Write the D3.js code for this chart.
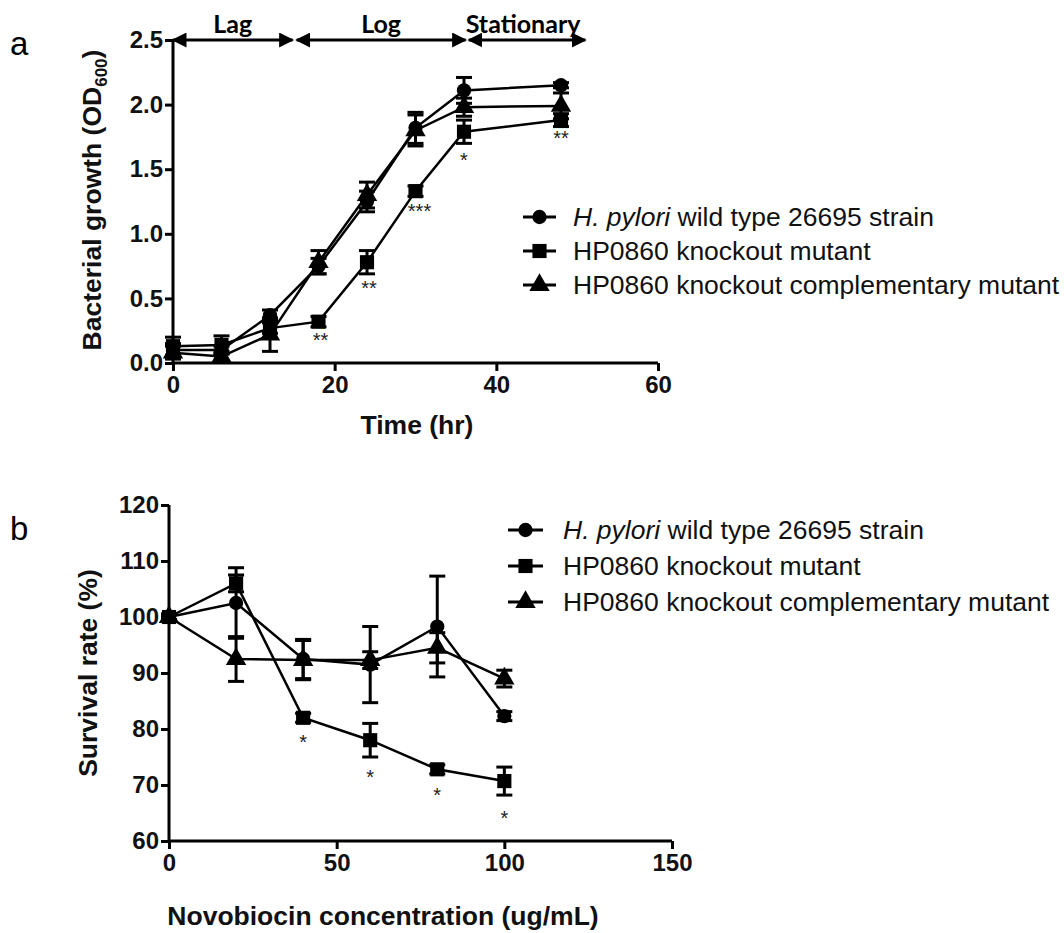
<!DOCTYPE html>
<html>
<head>
<meta charset="utf-8">
<script src="https://cdn.jsdelivr.net/npm/d3@7"></script>
<style>
  html, body { margin: 0; padding: 0; background: #fff; }
  svg { display: block; }
  .tick text { font-family: "Liberation Sans", Arial, sans-serif; font-weight: bold; }
</style>
</head>
<body>
<svg id="chart" width="1064" height="933"></svg>
<script>
// ---------- Panel a data ----------
const timeA = [0, 6, 12, 18, 24, 30, 36, 48];
const wtA   = [0.10, 0.10, 0.37, 0.75, 1.25, 1.82, 2.11, 2.15];
const koA   = [0.13, 0.14, 0.27, 0.32, 0.78, 1.33, 1.79, 1.88];
const compA = [0.08, 0.05, 0.22, 0.78, 1.30, 1.80, 1.98, 1.99];
const wtErrA   = [0.05, 0.03, 0.04, 0.06, 0.08, 0.12, 0.10, 0.02];
const koErrA   = [0.07, 0.07, 0.04, 0.04, 0.09, 0.04, 0.09, 0.05];
const compErrA = [0.05, 0.04, 0.13, 0.09, 0.10, 0.12, 0.07, 0.10];
const starTimeA  = [18, 24, 30, 36, 48];
const starValueA = [0.18, 0.58, 1.18, 1.57, 1.74];
const starTextA  = ["**", "**", "***", "*", "**"];
const xTicksA = [0, 20, 40, 60];
const yTicksA = [0.0, 0.5, 1.0, 1.5, 2.0, 2.5];
const phaseNames = ["Lag", "Log", "Stationary"];
const phaseStart = [0, 15.3, 36.6];
const phaseEnd   = [14.8, 36.2, 51];

// ---------- Panel b data ----------
const concB = [0, 20, 40, 60, 80, 100];
const wtB   = [100, 102.5, 92.5, 91.5, 98.3, 82.3];
const koB   = [100, 106, 82, 78, 72.8, 70.7];
const compB = [100, 92.5, 92.3, 92.3, 94.5, 89];
const wtErrB   = [0.5, 6.3, 3.5, 6.8, 9, 0.8];
const koErrB   = [0.5, 1.5, 0.8, 3, 0.8, 2.5];
const compErrB = [0.5, 4, 3.5, 1.5, 2.7, 1.5];
const starConcB  = [40, 60, 80, 100];
const starValueB = [77.7, 71.4, 68.2, 64.1];
const starTextB  = ["*", "*", "*", "*"];
const xTicksB = [0, 50, 100, 150];
const yTicksB = [60, 70, 80, 90, 100, 110, 120];

const seriesNames = ["wild type 26695 strain", "HP0860 knockout mutant", "HP0860 knockout complementary mutant"];

const svg = d3.select("#chart");
const FONT = '"Liberation Sans", Arial, sans-serif';

function drawPanel(cfg) {
  const g = svg.append("g");
  const x = d3.scaleLinear().domain(cfg.xDomain).range(cfg.xRange);
  const y = d3.scaleLinear().domain(cfg.yDomain).range(cfg.yRange);

  // axes
  const xAxis = d3.axisBottom(x).tickValues(cfg.xTicks).tickSize(8).tickPadding(5).tickFormat(d3.format("d"));
  const yAxis = d3.axisLeft(y).tickValues(cfg.yTicks).tickSize(8).tickPadding(2).tickFormat(cfg.yFormat);
  const gx = g.append("g").attr("transform", `translate(0,${cfg.yRange[0]})`).call(xAxis);
  const gy = g.append("g").attr("transform", `translate(${cfg.xRange[0]},0)`).call(yAxis);
  [gx, gy].forEach(a => {
    a.select(".domain").attr("stroke", "#000").attr("stroke-width", 3);
    a.selectAll(".tick line").attr("stroke", "#000").attr("stroke-width", 3);
    a.selectAll(".tick text").attr("fill", "#111").style("font-size", cfg.tickSize + "px");
  });
  gx.select(".domain").attr("d", `M${cfg.xRange[0]},0H${cfg.xRange[1]}`);
  gy.select(".domain").attr("d", `M0,${cfg.yRange[0]}V${cfg.yRange[1]}`);

  const sym = {
    circle: d3.symbol().type(d3.symbolCircle).size(160),
    square: d3.symbol().type(d3.symbolSquare).size(200),
    triangle: d3.symbol().type(d3.symbolTriangle).size(180)
  };

  const series = [
    { v: cfg.wt, e: cfg.wtErr, shape: "circle" },
    { v: cfg.ko, e: cfg.koErr, shape: "square" },
    { v: cfg.comp, e: cfg.compErr, shape: "triangle" }
  ];
  const line = d3.line().x(d => x(d[0])).y(d => y(d[1]));
  series.forEach(s => {
    const pts = cfg.xs.map((t, i) => [t, s.v[i], s.e[i]]);
    // error bars
    const eb = g.append("g");
    pts.forEach(p => {
      const x0 = x(p[0]);
      const y1 = y(p[1] + p[2]), y2 = y(p[1] - p[2]);
      eb.append("line").attr("x1", x0).attr("x2", x0).attr("y1", y1).attr("y2", y2).attr("stroke", "#000").attr("stroke-width", 3);
      [y1, y2].forEach(yy => eb.append("line").attr("x1", x0 - 8).attr("x2", x0 + 8).attr("y1", yy).attr("y2", yy).attr("stroke", "#000").attr("stroke-width", 3));
    });
    g.append("path").datum(pts).attr("d", line).attr("fill", "none").attr("stroke", "#000").attr("stroke-width", 2.5);
    g.selectAll(null).data(pts).enter().append("path")
      .attr("d", sym[s.shape])
      .attr("transform", d => `translate(${x(d[0])},${y(d[1])})`)
      .attr("fill", "#000");
  });

  // significance stars
  cfg.starX.forEach((t, i) => {
    g.append("text").attr("x", x(t) + (cfg.starDx[i] || 0)).attr("y", y(cfg.starY[i]))
      .attr("text-anchor", "middle").attr("dominant-baseline", "central")
      .attr("font-family", FONT).attr("font-size", 20).attr("fill", "#222")
      .text(cfg.starText[i]);
  });

  // axis titles
  g.append("text").attr("transform", `translate(${cfg.yTitlePos[0]},${cfg.yTitlePos[1]}) rotate(-90)`)
    .attr("text-anchor", "middle").attr("font-family", FONT).attr("font-weight", "bold")
    .attr("font-size", cfg.titleSize).attr("fill", "#111").call(cfg.yTitle);
  g.append("text").attr("x", cfg.xTitlePos[0]).attr("y", cfg.xTitlePos[1])
    .attr("text-anchor", "middle").attr("font-family", FONT).attr("font-weight", "bold")
    .attr("font-size", cfg.titleSize).attr("fill", "#111").text(cfg.xTitle);

  // legend
  const lg = g.append("g");
  series.forEach((s, i) => {
    const yy = cfg.legendY[i];
    lg.append("line").attr("x1", cfg.legendX[0]).attr("x2", cfg.legendX[1]).attr("y1", yy).attr("y2", yy)
      .attr("stroke", "#000").attr("stroke-width", 3);
    lg.append("path").attr("d", sym[s.shape]).attr("transform", `translate(${(cfg.legendX[0] + cfg.legendX[1]) / 2},${yy})`);
    const t = lg.append("text").attr("x", cfg.legendX[2]).attr("y", yy).attr("dominant-baseline", "central")
      .attr("font-family", FONT).attr("font-size", cfg.legendSize).attr("fill", "#111");
    if (i === 0) {
      t.append("tspan").attr("font-style", "italic").text("H. pylori");
      t.append("tspan").text(" " + seriesNames[0]);
    } else {
      t.text(seriesNames[i]);
    }
  });

  // panel letter
  g.append("text").attr("x", cfg.letterPos[0]).attr("y", cfg.letterPos[1]).attr("font-family", FONT)
    .attr("font-size", 33).text(cfg.letter);
  return { g, x, y };
}

const A = drawPanel({
  xDomain: [0, 60], xRange: [173, 658], yDomain: [0, 2.5], yRange: [363, 40],
  xTicks: xTicksA, yTicks: yTicksA, yFormat: d3.format(".1f"), tickSize: 24,
  xs: timeA, wt: wtA, ko: koA, comp: compA, wtErr: wtErrA, koErr: koErrA, compErr: compErrA,
  starX: starTimeA, starY: starValueA, starText: starTextA, starDx: [2, 2, 4, 0, 0],
  yTitlePos: [101, 200], titleSize: 26.5,
  yTitle: t => { t.append("tspan").text("Bacterial growth (OD");
                 t.append("tspan").attr("font-size", 17).attr("dy", 6).text("600");
                 t.append("tspan").attr("dy", -6).text(")"); },
  xTitlePos: [417, 434], xTitle: "Time (hr)",
  legendX: [523, 556, 573], legendY: [217, 251, 285], legendSize: 26.5,
  letter: "a", letterPos: [10, 55]
});

// phase arrows
const phase = A.g.append("g");
const defs = svg.append("defs");
defs.append("marker").attr("id", "ah").attr("viewBox", "0 0 10 10").attr("refX", 9).attr("refY", 5)
  .attr("markerWidth", 5).attr("markerHeight", 5).attr("orient", "auto-start-reverse").attr("markerUnits", "strokeWidth")
  .append("path").attr("d", "M0,0L10,5L0,10Z").attr("fill", "#000");
phaseNames.forEach((n, i) => {
  phase.append("line").attr("x1", A.x(phaseStart[i])).attr("x2", A.x(phaseEnd[i]))
    .attr("y1", A.y(2.5)).attr("y2", A.y(2.5)).attr("stroke", "#000").attr("stroke-width", 3)
    .attr("marker-start", "url(#ah)").attr("marker-end", "url(#ah)");
  phase.append("text").attr("x", A.x((phaseStart[i] + phaseEnd[i]) / 2) + (i === 2 ? -4 : 0)).attr("y", 33)
    .attr("text-anchor", "middle").attr("font-family", "Lato, sans-serif").attr("font-weight", "bold")
    .attr("font-size", 25).text(n);
});

drawPanel({
  xDomain: [0, 150], xRange: [169, 672], yDomain: [60, 120], yRange: [841, 505],
  xTicks: xTicksB, yTicks: yTicksB, yFormat: d3.format("d"), tickSize: 24,
  xs: concB, wt: wtB, ko: koB, comp: compB, wtErr: wtErrB, koErr: koErrB, compErr: compErrB,
  starX: starConcB, starY: starValueB, starText: starTextB, starDx: [0, 0, 0, 0],
  yTitlePos: [97, 673], titleSize: 26.5,
  yTitle: t => t.text("Survival rate (%)"),
  xTitlePos: [383, 925], xTitle: "Novobiocin concentration (ug/mL)",
  legendX: [508, 543, 563], legendY: [530, 566, 602], legendSize: 26.5,
  letter: "b", letterPos: [10, 540]
});
</script>
</body>
</html>
